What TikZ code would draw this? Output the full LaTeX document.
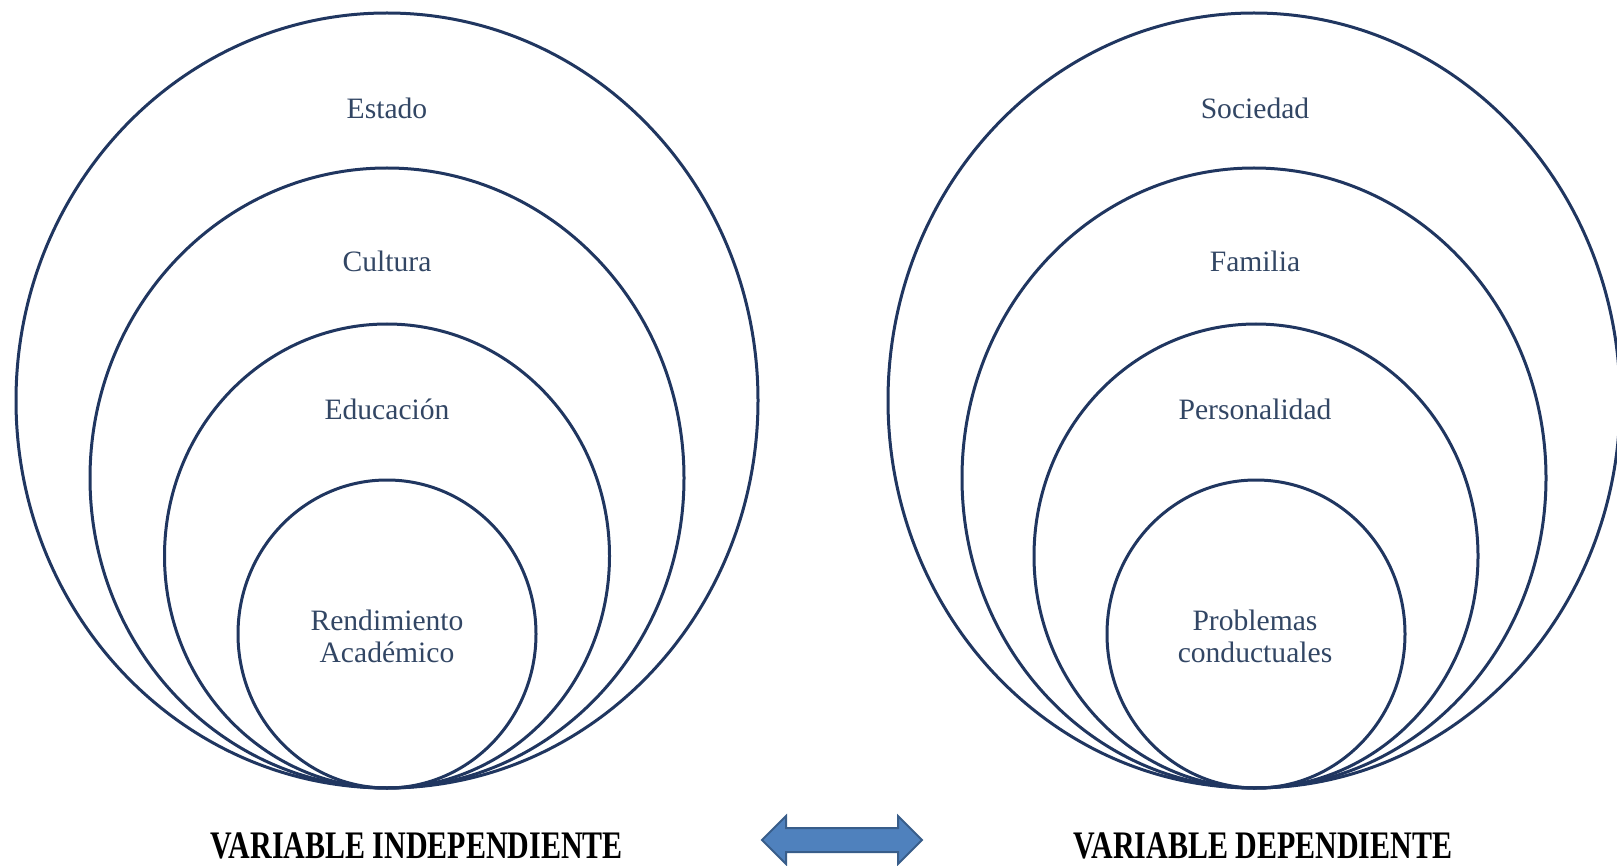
\documentclass[tikz,border=0pt]{standalone}
\usepackage{fontspec}
\setmainfont{Liberation Serif}
\usetikzlibrary{shapes.arrows}
\definecolor{ringblue}{RGB}{32,54,96}
\definecolor{labelblue}{RGB}{50,70,100}
\definecolor{arrowfill}{RGB}{79,129,189}
\definecolor{arrowline}{RGB}{56,93,138}

\begin{document}
\begin{tikzpicture}[x=0.5pt, y=-0.5pt,
  ring/.style={ringblue, line width=1.5pt},
  lbl/.style={labelblue, font=\fontsize{14.8}{16}\selectfont, align=center, inner sep=0pt},
  varlbl/.style={font=\bfseries\fontsize{15}{16}\selectfont, inner sep=0pt, anchor=south}]

\useasboundingbox (0,0) rectangle (1617,866);

% independiente
\draw[ring] (387,400.5) ellipse (371 and 387.5);
\draw[ring] (387,478) ellipse (297 and 310);
\draw[ring] (387,556) ellipse (222.5 and 232);
\draw[ring] (387,634) ellipse (149 and 154);

\node[lbl] (estado) at (387,108) {Estado};
\node[lbl] (cultura) at (387,261) {Cultura};
\node[lbl] (educacion) at (387,409) {Educación};
\node[lbl] (rendimiento) at (387,636) {Rendimiento\\Académico};

% dependiente
\draw[ring] (1254,400.5) ellipse (366 and 387.5);
\draw[ring] (1254,478) ellipse (292 and 310);
\draw[ring] (1256,556) ellipse (222 and 232);
\draw[ring] (1256,634) ellipse (149 and 154);

\node[lbl] (sociedad) at (1255,108) {Sociedad};
\node[lbl] (familia) at (1255,261) {Familia};
\node[lbl] (personalidad) at (1255,409) {Personalidad};
\node[lbl] (problemas) at (1255,636) {Problemas\\conductuales};

\node[varlbl] (vind) at (417,859) {\scalebox{1}[1.3]{VARIABLE INDEPENDIENTE}};
\node[varlbl] (vdep) at (1263,859) {\scalebox{1}[1.3]{VARIABLE DEPENDIENTE}};

\node[double arrow, draw=arrowline, fill=arrowfill, line width=1pt,
  minimum height=80pt, inner xsep=0pt, inner ysep=5.5pt,
  double arrow head extend=6pt] (relacion) at (842,840) {};

\end{tikzpicture}
\end{document}
